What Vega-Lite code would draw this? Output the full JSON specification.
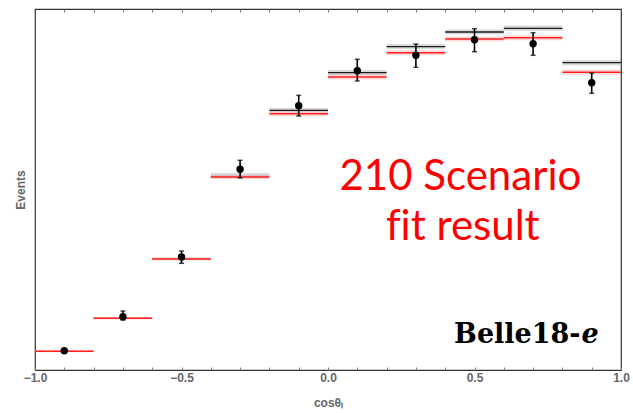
{
  "$schema": "https://vega.github.io/schema/vega-lite/v6.json",
  "width": 586,
  "height": 361,
  "autosize": {"type": "none"},
  "padding": {"left": 35, "top": 9, "right": 12, "bottom": 43},
  "background": "white",
  "config": {
    "view": {"stroke": "#333333", "strokeWidth": 1.2},
    "axis": {"labelFont": "Liberation Sans", "titleFont": "Liberation Sans", "labelColor": "#666666", "titleColor": "#666666", "labelFontWeight": "bold", "titleFontWeight": "bold", "labelFontSize": 12, "titleFontSize": 12, "grid": false}
  },
  "datasets": {
    "bins": [
      {"x": -0.9, "lo": -1.0, "hi": -0.8, "d": 19.3, "elo": 17.8, "ehi": 20.8, "red": 18.7, "rlo": 17.7, "rhi": 19.7, "blk": null, "blo": 18.0, "bhi": 19.4},
      {"x": -0.7, "lo": -0.8, "hi": -0.6, "d": 53.3, "elo": 50.0, "ehi": 59.0, "red": 51.7, "rlo": 50.5, "rhi": 53.0, "blk": null, "blo": 51.0, "bhi": 52.5},
      {"x": -0.5, "lo": -0.6, "hi": -0.4, "d": 113.0, "elo": 106.7, "ehi": 119.0, "red": 111.0, "rlo": 109.5, "rhi": 112.5, "blk": null, "blo": 110.0, "bhi": 112.5},
      {"x": -0.3, "lo": -0.4, "hi": -0.2, "d": 200.7, "elo": 192.0, "ehi": 209.7, "red": 193.0, "rlo": 191.0, "rhi": 195.0, "blk": null, "blo": 192.0, "bhi": 197.0},
      {"x": -0.1, "lo": -0.2, "hi": 0.0, "d": 264.3, "elo": 254.0, "ehi": 274.7, "red": 256.3, "rlo": 254.0, "rhi": 258.5, "blk": 259.7, "blo": 257.5, "bhi": 262.0},
      {"x": 0.1, "lo": 0.0, "hi": 0.2, "d": 299.3, "elo": 289.0, "ehi": 310.7, "red": 293.0, "rlo": 290.5, "rhi": 295.5, "blk": 297.3, "blo": 295.0, "bhi": 300.0},
      {"x": 0.3, "lo": 0.2, "hi": 0.4, "d": 314.7, "elo": 302.7, "ehi": 326.0, "red": 317.3, "rlo": 314.8, "rhi": 319.8, "blk": 323.3, "blo": 321.0, "bhi": 326.0},
      {"x": 0.5, "lo": 0.4, "hi": 0.6, "d": 330.3, "elo": 318.3, "ehi": 341.3, "red": 331.0, "rlo": 328.5, "rhi": 333.5, "blk": 338.0, "blo": 335.5, "bhi": 340.5},
      {"x": 0.7, "lo": 0.6, "hi": 0.8, "d": 326.3, "elo": 314.7, "ehi": 337.3, "red": 332.3, "rlo": 329.8, "rhi": 334.8, "blk": 341.7, "blo": 339.0, "bhi": 344.5},
      {"x": 0.9, "lo": 0.8, "hi": 1.0, "d": 287.3, "elo": 276.7, "ehi": 297.0, "red": 297.7, "rlo": 295.0, "rhi": 300.5, "blk": 307.3, "blo": 304.5, "bhi": 310.0}
    ]
  },
  "data": {"name": "bins"},
  "layer": [
    {
      "mark": {"type": "rect", "fill": "#b8b8b8", "opacity": 0.5},
      "encoding": {
        "x": {"field": "lo", "type": "quantitative", "scale": {"domain": [-1, 1], "nice": false, "zero": false},
          "axis": {"orient": "bottom", "values": [-1, -0.9, -0.8, -0.7, -0.6, -0.5, -0.4, -0.3, -0.2, -0.1, 0, 0.1, 0.2, 0.3, 0.4, 0.5, 0.6, 0.7, 0.8, 0.9, 1],
            "labelExpr": "abs(datum.value*2 - round(datum.value*2)) < 0.000001 ? replace(format(datum.value, '.1f'), '-', '\u2212') : ''",
            "tickSize": -3, "tickColor": "#777777", "domain": false, "labelPadding": 5, "labelFlush": false, "labelOverlap": false,
            "title": "cos\u03b8\u2097", "titlePadding": 14}},
        "x2": {"field": "hi"},
        "y": {"field": "blo", "type": "quantitative", "scale": {"domain": [0, 361], "nice": false, "zero": false},
          "axis": {"labels": false, "ticks": false, "domain": false, "title": "Events", "titlePadding": 8}},
        "y2": {"field": "bhi"}
      }
    },
    {
      "mark": {"type": "rule", "stroke": "#1a1a1a", "strokeWidth": 1.3},
      "encoding": {
        "x": {"field": "lo", "type": "quantitative",
          "axis": {"orient": "top", "values": [-0.9, -0.8, -0.7, -0.6, -0.5, -0.4, -0.3, -0.2, -0.1, 0, 0.1, 0.2, 0.3, 0.4, 0.5, 0.6, 0.7, 0.8, 0.9], "labels": false, "tickSize": -3, "tickColor": "#777777", "domain": false, "title": null}},
        "x2": {"field": "hi"},
        "y": {"field": "blk", "type": "quantitative", "axis": null}
      }
    },
    {
      "mark": {"type": "rect", "fill": "#ff0000", "opacity": 0.15},
      "encoding": {
        "x": {"field": "lo", "type": "quantitative", "axis": null},
        "x2": {"field": "hi"},
        "y": {"field": "rlo", "type": "quantitative", "axis": null},
        "y2": {"field": "rhi"}
      }
    },
    {
      "mark": {"type": "rule", "stroke": "#ff2020", "strokeWidth": 1.6},
      "encoding": {
        "x": {"field": "lo", "type": "quantitative", "axis": null},
        "x2": {"field": "hi"},
        "y": {"field": "red", "type": "quantitative", "axis": null}
      }
    },
    {
      "mark": {"type": "rule", "stroke": "#000000", "strokeWidth": 1.6},
      "encoding": {
        "x": {"field": "x", "type": "quantitative", "axis": null},
        "y": {"field": "elo", "type": "quantitative", "axis": null},
        "y2": {"field": "ehi"}
      }
    },
    {
      "mark": {"type": "tick", "orient": "horizontal", "color": "#000000", "size": 5, "thickness": 1.5},
      "encoding": {
        "x": {"field": "x", "type": "quantitative", "axis": null},
        "y": {"field": "elo", "type": "quantitative", "axis": null}
      }
    },
    {
      "mark": {"type": "tick", "orient": "horizontal", "color": "#000000", "size": 5, "thickness": 1.5},
      "encoding": {
        "x": {"field": "x", "type": "quantitative", "axis": null},
        "y": {"field": "ehi", "type": "quantitative", "axis": null}
      }
    },
    {
      "mark": {"type": "circle", "color": "#000000", "opacity": 1, "size": 55},
      "encoding": {
        "x": {"field": "x", "type": "quantitative", "axis": null},
        "y": {"field": "d", "type": "quantitative", "axis": null}
      }
    },
    {
      "data": {"values": [{"t": "210 Scenario", "x": 0.452, "y": 180}, {"t": "f\u200cit result", "x": 0.46, "y": 130}]},
      "mark": {"type": "text", "font": "Lato", "fontSize": 42, "color": "#ff0000", "align": "center", "baseline": "alphabetic"},
      "encoding": {
        "x": {"field": "x", "type": "quantitative", "axis": null},
        "y": {"field": "y", "type": "quantitative", "axis": null},
        "text": {"field": "t"}
      }
    },
    {
      "data": {"values": [{"t": "Belle18-", "x": 0.862, "y": 26.7}]},
      "mark": {"type": "text", "font": "DejaVu Serif", "fontWeight": "bold", "fontSize": 27, "color": "#000000", "align": "right", "baseline": "alphabetic"},
      "encoding": {
        "x": {"field": "x", "type": "quantitative", "axis": null},
        "y": {"field": "y", "type": "quantitative", "axis": null},
        "text": {"field": "t"}
      }
    },
    {
      "data": {"values": [{"t": "e", "x": 0.865, "y": 26.7}]},
      "mark": {"type": "text", "font": "DejaVu Serif", "fontWeight": "bold", "fontStyle": "italic", "fontSize": 27, "color": "#000000", "align": "left", "baseline": "alphabetic"},
      "encoding": {
        "x": {"field": "x", "type": "quantitative", "axis": null},
        "y": {"field": "y", "type": "quantitative", "axis": null},
        "text": {"field": "t"}
      }
    }
  ],
  "resolve": {"axis": {"x": "independent", "y": "independent"}}
}
